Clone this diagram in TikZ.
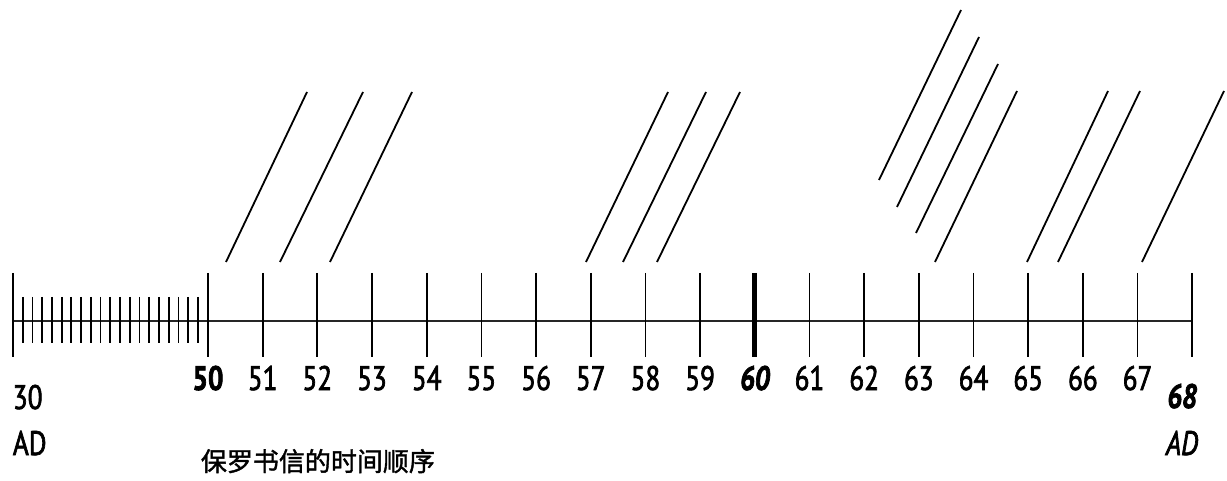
\documentclass[tikz,border=0pt]{standalone}
\usepackage{fontspec}
\newfontfamily\tlfont[FakeStretch=0.8,FakeBold=2]{PT Sans}
\newfontfamily\cjk[FakeBold=1.5]{Noto Sans CJK SC}

\begin{document}
\begin{tikzpicture}[x=1pt,y=-1pt,line width=1.8pt,
  yr/.style={font=\tlfont\fontsize{34}{34}\selectfont,anchor=base,inner sep=0pt}]
  \useasboundingbox (0,0) rectangle (1227,481);
  % eje del tiempo
  \draw[line width=2.2pt,black!85] (13,321)--(1192,321);
  % 30 - 50 AD
  \draw (13,273)--(13,357);
  \foreach \i in {1,...,19} \draw (13+\i*9.73,297)--(13+\i*9.73,343);
  % anos 50 - 68
  \foreach \k in {50,...,68} \draw (208+\k*54.68-50*54.68,273)--++(0,84);
  \draw[line width=5pt] (208+10*54.68,273)--++(0,84);
  \foreach \k in {51,...,59,61,62,...,67}
    \node[yr] (y\k) at (208+\k*54.68-50*54.68,390) {\k};
  \node[yr] (y50) at (208,390) {\bfseries 50};
  \node[yr] (y60) at (208+10*54.68,390) {\bfseries\itshape 60};
  \node[yr,anchor=base west] (y30) at (12,409) {30};
  \node[yr,anchor=base west] (ad30) at (12,455) {AD};
  \node[yr] (y68) at (1182,408) {\bfseries\itshape 68};
  \node[yr] (ad68) at (1182,455) {\itshape AD};
  % cartas
  \foreach \a/\b/\c/\d in {226/262/307/92, 280/262/363/92, 330/262/412/92,
      586/262/668/92, 623/262/706/92, 657/262/740/92,
      879/180/961/10, 897/207/979/37, 916/233/998/64, 935/262/1017/91,
      1027/262/1108/91, 1058/262/1140/91, 1142/262/1224/91}
    \draw (\a,\b)--(\c,\d);
  \node[anchor=base west,inner sep=0pt,font=\cjk\fontsize{26}{26}\selectfont] (titulo) at (200,471) {保罗书信的时间顺序};
\end{tikzpicture}
\end{document}
